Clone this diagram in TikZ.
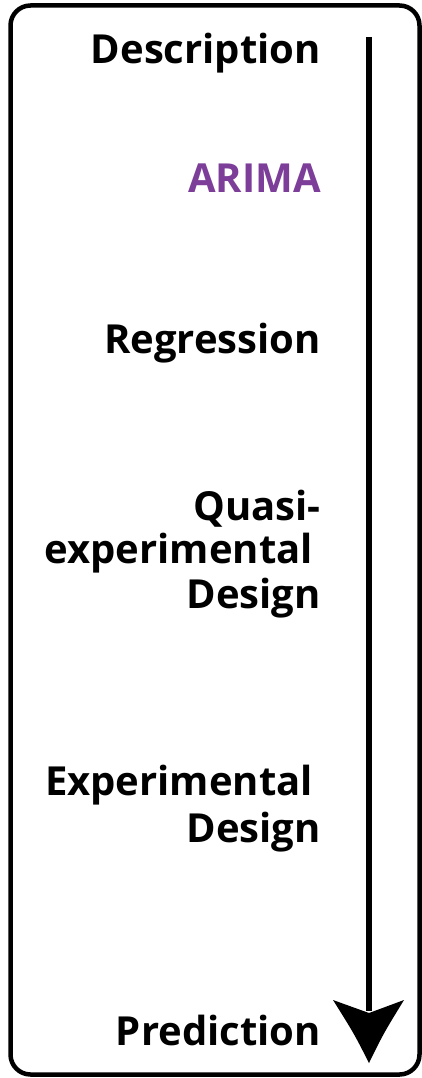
\documentclass[tikz,border=0pt]{standalone}
\usepackage{fontspec}
\setmainfont{Open Sans}
\usetikzlibrary{calc}
\definecolor{arimapurple}{RGB}{124,62,152}
\tikzset{
  lbl/.style={anchor=base east, inner sep=0pt, font=\bfseries\fontsize{40}{44}\selectfont},
  frame/.style={draw=black, line width=4.5pt, rounded corners=20pt},
}
\begin{document}
\begin{tikzpicture}[x=1pt,y=1pt]
\useasboundingbox (0,0) rectangle (422,-1078);
\draw[frame] (10.5,-5.5) rectangle (419.5,-1074.5);
% labels
\node[lbl] (desc) at (321,-64) {Description};
\node[lbl, text=arimapurple] (arima) at (321,-193) {ARIMA};
\node[lbl] (reg) at (321,-353) {Regression};
\node[lbl] (q1) at (321,-520) {Quasi-};
\node[lbl] (q2) at (313,-563) {experimental};
\node[lbl] (q3) at (321,-608) {Design};
\node[lbl] (e1) at (313,-795) {Experimental};
\node[lbl] (e2) at (321,-842) {Design};
\node[lbl] (pred) at (321,-1045) {Prediction};
% arrow
\coordinate (astart) at (369,-37);
\coordinate (anotch) at (369,-1013);
\coordinate (atip) at (369,-1063);
\coordinate (aleft) at (333,-1000);
\coordinate (aright) at (404,-1000);
\draw[line width=6pt] (astart) -- ([yshift=2pt]anotch);
\fill (aleft) -- (anotch) -- (aright) .. controls ($(aright)!0.5!(atip)+(-3,-2)$) .. (atip) .. controls ($(aleft)!0.5!(atip)+(3,-2)$) .. cycle;
\end{tikzpicture}
\end{document}
